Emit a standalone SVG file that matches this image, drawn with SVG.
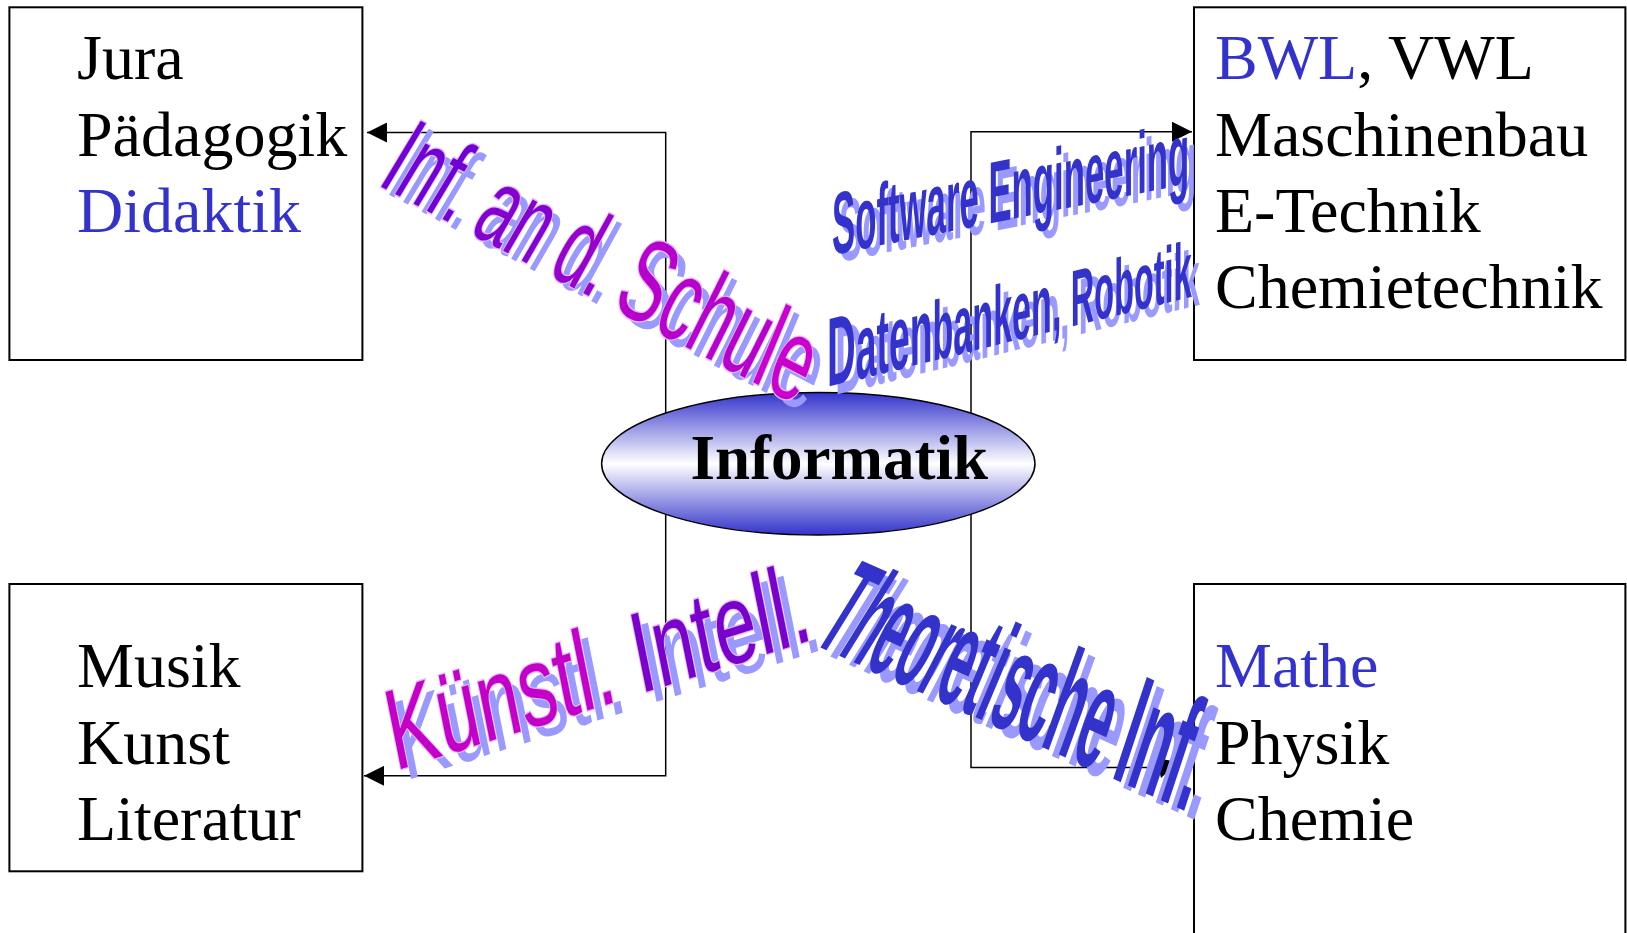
<svg xmlns="http://www.w3.org/2000/svg" width="1627" height="933" viewBox="0 0 1627 933">
<style>
.box{fill:#fff;stroke:#000;stroke-width:2}
.lbl{font-family:"Liberation Serif","Times New Roman",serif;font-size:64px;fill:#000}
.blue{fill:#3333cc}
.conn{fill:none;stroke:#000;stroke-width:1.5}
.wa{font-family:"Liberation Sans",Arial,sans-serif}
.wab{font-family:"Liberation Sans",Arial,sans-serif;font-weight:bold}
.sh{fill:#9999ff}
.wblue{fill:#3333cc}
.pur{stroke:#e2b8ff;stroke-width:2.5;paint-order:stroke}
</style>
<defs>
<linearGradient id="eg" x1="0" y1="0" x2="0" y2="1">
<stop offset="0" stop-color="#3333cc"/>
<stop offset="0.5" stop-color="#ffffff"/>
<stop offset="1" stop-color="#3333cc"/>
</linearGradient>
<marker id="arr" viewBox="0 0 20 20" refX="20" refY="10" markerWidth="20" markerHeight="20" markerUnits="userSpaceOnUse" orient="auto">
<path d="M0,0 L20,10 L0,20 z" fill="#000"/>
</marker>
<!-- WordArt label geometry -->
<text id="t1a" class="wa" font-size="96" transform="matrix(0.576 0.303 -0.6 1 376 184)">Inf.</text>
<text id="t1b" class="wa" font-size="97" transform="matrix(0.576 0.303 -0.58 1 468.2 232.5)">an</text>
<text id="t1c" class="wa" font-size="100" transform="matrix(0.576 0.303 -0.55 1 545.9 273.4)">d.</text>
<text id="t1d" class="wa" font-size="106" transform="matrix(0.576 0.303 -0.5 1 609.9 307)">Schu</text>
<text id="t1e" class="wa" font-size="108" transform="matrix(0.576 0.303 -0.42 1 749 380)">le</text>
<text id="t2a" class="wa" font-size="112" transform="matrix(0.655 -0.206 0.2 1 395 771)">Künstl.</text>
<text id="t2b" class="wa" font-size="112" x="373.5" transform="matrix(0.655 -0.206 0.2 1 395 771)">Intell.</text>
<text id="t3" class="wab" font-size="88" transform="matrix(0.395 -0.079 0 1 832 255)">Software Engineering</text>
<text id="t4" class="wab" transform="matrix(0.406 -0.1005 0 1 827 387)"><tspan font-size="98">D</tspan><tspan font-size="92">aten</tspan><tspan font-size="84">banken, </tspan><tspan font-size="80">Robotik</tspan></text>
<text id="t5a" class="wab" font-size="120" transform="matrix(0.352 0.158 -0.62 1 810.4 643)">Th</text>
<text id="t5b" class="wab" font-size="126" transform="matrix(0.352 0.158 -0.52 1 862 666.2)">eor</text>
<text id="t5c" class="wab" font-size="132" transform="matrix(0.352 0.158 -0.42 1 931 697.1)">etis</text>
<text id="t5d" class="wab" font-size="140" transform="matrix(0.352 0.158 -0.36 1 1011.1 733.1)">che</text>
<text id="t5e" class="wab" font-size="148" transform="matrix(0.352 0.158 -0.33 1 1109.7 777.3)">Inf.</text>
</defs>
<rect x="0" y="0" width="1627" height="933" fill="#fff"/>

<g id="node-jura">
<rect class="box" x="9.4" y="7.3" width="353" height="352.7"/>
<text class="lbl" x="77" y="79.3">Jura</text>
<text class="lbl" x="77" y="155.7">Pädagogik</text>
<text class="lbl blue" x="77" y="232.3">Didaktik</text>
</g>
<g id="node-bwl">
<rect class="box" x="1194" y="7.3" width="431.4" height="352.7"/>
<text class="lbl" x="1215" y="79.3"><tspan class="blue">BWL</tspan>, VWL</text>
<text class="lbl" x="1215" y="155.7">Maschinenbau</text>
<text class="lbl" x="1215" y="232.3">E-Technik</text>
<text class="lbl" x="1215" y="308.3">Chemietechnik</text>
</g>
<g id="node-musik">
<rect class="box" x="9.4" y="584" width="353" height="287.3"/>
<text class="lbl" x="77" y="687">Musik</text>
<text class="lbl" x="77" y="764">Kunst</text>
<text class="lbl" x="77" y="840.3">Literatur</text>
</g>
<g id="node-mathe">
<rect class="box" x="1194" y="584" width="431.4" height="360"/>
<text class="lbl blue" x="1215" y="687">Mathe</text>
<text class="lbl" x="1215" y="764">Physik</text>
<text class="lbl" x="1215" y="840.3">Chemie</text>
</g>

<g id="connectors">
<path class="conn" d="M665.7,464 V132.5 H367" marker-end="url(#arr)"/>
<path class="conn" d="M665.7,464 V775.8 H364" marker-end="url(#arr)"/>
<path class="conn" d="M971,464 V131.7 H1192" marker-end="url(#arr)"/>
<path class="conn" d="M971,464 V767.5 H1162"/>
<polygon points="1156,758 1178,762 1161,778" fill="#000"/>
</g>

<g id="node-informatik">
<ellipse cx="818.3" cy="463.7" rx="216.7" ry="71.3" fill="url(#eg)" stroke="#000" stroke-width="1.5"/>
<text x="690.5" y="478.5" font-family="Liberation Serif,Times New Roman,serif" font-weight="bold" font-size="63">Informatik</text>
</g>

<g id="connector-labels">
<g id="label-schule">
<g class="sh" transform="translate(8,8)">
<use href="#t1a"/><use href="#t1b"/><use href="#t1c"/><use href="#t1d"/><use href="#t1e"/>
</g>
<g class="pur">
<use href="#t1a" fill="#7000d4"/>
<use href="#t1b" fill="#8200d0"/>
<use href="#t1c" fill="#9800cc"/>
<use href="#t1d" fill="#b800cc"/>
<use href="#t1e" fill="#cc00cc"/>
</g>
</g>
<g id="label-software">
<use href="#t3" class="sh" transform="translate(7,7)"/>
<use href="#t3" class="wblue"/>
</g>
<g id="label-datenbanken">
<use href="#t4" class="sh" transform="translate(8,8)"/>
<use href="#t4" class="wblue"/>
</g>
<g id="label-ki">
<g class="sh" transform="translate(10,10)">
<use href="#t2a"/><use href="#t2b"/>
</g>
<g class="pur">
<use href="#t2a" fill="#c400c8"/>
<use href="#t2b" fill="#7a00cc"/>
</g>
</g>
<g id="label-theorie">
<g class="sh" transform="translate(10,9)">
<use href="#t5a"/><use href="#t5b"/><use href="#t5c"/><use href="#t5d"/><use href="#t5e"/>
</g>
<g class="wblue">
<use href="#t5a"/><use href="#t5b"/><use href="#t5c"/><use href="#t5d"/><use href="#t5e"/>
</g>
</g>
</g>
</svg>
